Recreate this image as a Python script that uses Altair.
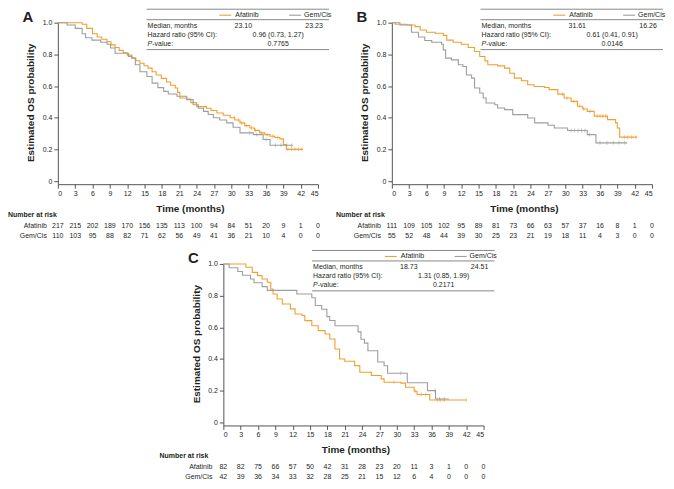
import altair as alt
import pandas as pd

FONT = "Liberation Sans"
TEXT = "#231F20"
AXIS = "#555555"
GROUPS = ["Afatinib", "Gem/Cis"]
COLORS = ["#EFA032", "#9E9E9E"]
MONTHS = list(range(0, 46, 3))
YTICKS = [0, 0.2, 0.4, 0.6, 0.8, 1.0]

# ---------------- Panel A ----------------
a_afa_t = [0, 4.2, 5.0, 6.0, 6.8, 7.6, 8.5, 9.2, 9.9, 10.6, 11.3, 12.0, 12.8, 13.5, 14.2, 14.9, 15.6, 16.3, 17.0, 17.9,
           18.8, 19.5, 20.3, 20.7, 21.1, 22.3, 23.0, 24.0, 25.7, 26.5, 27.5, 28.6, 29.8, 30.6, 31.5, 32.3, 33.2, 34.0, 34.9, 35.8,
           36.7, 37.5, 38.4, 39.0, 39.5, 42.4]
a_afa_s = [1.0, 0.99, 0.964, 0.93, 0.91, 0.895, 0.88, 0.86, 0.843, 0.825, 0.81, 0.795, 0.776, 0.76, 0.744, 0.728, 0.713, 0.69, 0.67, 0.648,
           0.625, 0.605, 0.587, 0.56, 0.524, 0.518, 0.495, 0.47, 0.46, 0.445, 0.43, 0.415, 0.40, 0.385, 0.367, 0.35, 0.335, 0.32, 0.304, 0.293,
           0.283, 0.275, 0.266, 0.23, 0.2, 0.2]
a_gem_t = [0, 1.6, 3.0, 4.2, 4.8, 5.9, 7.4, 8.5, 9.1, 9.9, 12.2, 12.8, 13.4, 14.2, 15.4, 16.3, 17.3, 18.3, 19.1, 20.6,
           22.3, 23.4, 24.3, 25.2, 26.0, 26.9, 28.0, 29.2, 30.3, 31.5, 33.8, 35.5, 36.7, 40.7]
a_gem_s = [1.0, 0.985, 0.964, 0.93, 0.905, 0.89, 0.876, 0.864, 0.84, 0.807, 0.786, 0.776, 0.734, 0.69, 0.66, 0.618, 0.59, 0.566, 0.55, 0.535,
           0.514, 0.482, 0.46, 0.44, 0.42, 0.40, 0.385, 0.367, 0.34, 0.304, 0.293, 0.262, 0.226, 0.226]
a_afa_cens = [30.5, 31.2, 31.8, 32.6, 33.5, 34.2, 35.2, 36.2, 37.2, 38.0, 39.8, 40.4, 41.0, 41.6, 42.2]
a_gem_cens = [33.2, 34.4, 36.0, 37.6, 38.6, 39.6, 40.4]
a_risk_afa = [217, 215, 202, 189, 170, 156, 135, 113, 100, 94, 84, 51, 20, 9, 1, 0]
a_risk_gem = [110, 103, 95, 88, 82, 71, 62, 56, 49, 41, 36, 21, 10, 4, 0, 0]
a_stats = ["23.10", "23.23", "0.96 (0.73, 1.27)", "0.7765"]

# ---------------- Panel B ----------------
b_afa_t = [0, 0.6, 2.6, 4.0, 4.9, 6.0, 7.5, 8.9, 9.5, 10.6, 12.0, 13.2, 14.3, 15.2, 16.1, 16.6, 18.3, 19.5, 20.4, 21.2,
           22.4, 23.5, 24.6, 26.4, 27.2, 28.7, 29.8, 31.0, 32.1, 33.0, 33.8, 35.0, 37.3, 38.7, 39.0, 39.4, 42.4]
b_afa_s = [1.0, 0.99, 0.985, 0.975, 0.954, 0.94, 0.933, 0.92, 0.89, 0.876, 0.864, 0.843, 0.818, 0.786, 0.759, 0.734, 0.727, 0.713, 0.681, 0.65,
           0.633, 0.608, 0.597, 0.591, 0.577, 0.549, 0.524, 0.503, 0.472, 0.455, 0.44, 0.41, 0.388, 0.367, 0.335, 0.277, 0.277]
b_gem_t = [0, 1.4, 3.4, 4.6, 5.7, 6.9, 8.6, 8.9, 9.3, 10.3, 11.5, 12.3, 12.9, 13.8, 14.3, 15.2, 15.8, 16.3, 17.8, 18.3,
           19.5, 20.9, 23.5, 24.7, 27.0, 28.1, 30.4, 33.8, 35.3, 40.7]
b_gem_s = [1.0, 0.985, 0.94, 0.91, 0.887, 0.876, 0.864, 0.828, 0.776, 0.765, 0.734, 0.723, 0.67, 0.65, 0.587, 0.556, 0.524, 0.493, 0.482, 0.461,
           0.451, 0.419, 0.398, 0.367, 0.352, 0.335, 0.319, 0.293, 0.241, 0.241]
b_afa_cens = [29.5, 30.3, 31.5, 32.5, 33.2, 34.3, 35.5, 36.0, 36.5, 37.0, 40.2, 40.8, 41.5, 42.2]
b_gem_cens = [31.0, 31.6, 32.2, 32.8, 33.4, 34.2, 36.0, 37.2, 38.3, 39.3, 40.3]
b_risk_afa = [111, 109, 105, 102, 95, 89, 81, 73, 66, 63, 57, 37, 16, 8, 1, 0]
b_risk_gem = [55, 52, 48, 44, 39, 30, 25, 23, 21, 19, 18, 11, 4, 3, 0, 0]
b_stats = ["31.61", "16.26", "0.61 (0.41, 0.91)", "0.0146"]

# ---------------- Panel C ----------------
c_afa_t = [0, 3.9, 5.0, 5.9, 6.7, 7.6, 8.2, 8.6, 9.3, 10.2, 11.6, 12.4, 13.6, 14.1, 15.3, 16.4, 17.6, 18.4, 19.3, 20.1,
           21.0, 22.7, 23.6, 25.6, 27.3, 27.8, 30.7, 31.5, 33.0, 33.5, 35.7, 42.1]
c_afa_s = [1.0, 0.979, 0.947, 0.926, 0.905, 0.884, 0.842, 0.81, 0.779, 0.747, 0.716, 0.684, 0.674, 0.642, 0.61, 0.579, 0.558, 0.526, 0.463, 0.40,
           0.385, 0.358, 0.316, 0.295, 0.274, 0.253, 0.247, 0.221, 0.196, 0.175, 0.141, 0.141]
c_gem_t = [0, 1.0, 2.5, 3.3, 4.7, 5.3, 6.7, 7.6, 12.7, 15.3, 15.9, 17.0, 17.9, 18.4, 19.3, 23.3, 23.8, 24.4, 25.0, 26.7,
           27.8, 28.4, 31.8, 35.3, 36.7, 39.0]
c_gem_s = [1.0, 0.976, 0.952, 0.929, 0.905, 0.881, 0.857, 0.833, 0.81, 0.786, 0.738, 0.714, 0.667, 0.643, 0.61, 0.571, 0.524, 0.5, 0.452, 0.381,
           0.357, 0.31, 0.25, 0.2, 0.147, 0.147]
c_afa_cens = [29.5, 33.2, 34.2, 35.0, 37.0, 37.6, 38.2, 42.0]
c_gem_cens = [30.7, 36.6, 37.4, 38.2]
c_risk_afa = [82, 82, 75, 66, 57, 50, 42, 31, 28, 23, 20, 11, 3, 1, 0, 0]
c_risk_gem = [42, 39, 36, 34, 33, 32, 28, 25, 21, 15, 12, 6, 4, 0, 0, 0]
c_stats = ["18.73", "24.51", "1.31 (0.85, 1.99)", "0.2171"]

W, H = 261, 162
DUMMY = pd.DataFrame({"k": [0]})


def step_value(t, ts, ss):
    v = ss[0]
    for ti, si in zip(ts, ss):
        if ti <= t:
            v = si
    return v


def label(text, x, y, size=7, weight="normal", align="left", style="normal", color=TEXT, baseline="middle"):
    return alt.Chart(DUMMY).mark_text(
        fontSize=size, fontWeight=weight, align=align, fontStyle=style, color=color,
        baseline=baseline, font=FONT
    ).encode(x=alt.value(x), y=alt.value(y), text=alt.value(text))


def hline(x1, x2, y, color="#6B6B6B", width=0.8):
    return alt.Chart(DUMMY).mark_rule(color=color, strokeWidth=width).encode(
        x=alt.value(x1), x2=alt.value(x2), y=alt.value(y))


XSCALE = alt.Scale(domain=[0, 45], nice=False, zero=False)
YSCALE = alt.Scale(domain=[-0.02, 1], nice=False)
COLOR = alt.Color("g:N", scale=alt.Scale(domain=GROUPS, range=COLORS), legend=None)
X_ENC = alt.X("t:Q", scale=XSCALE, axis=alt.Axis(
    values=MONTHS, format="d", title="Time (months)", titleX=W / 2 + 2, titleY=24,
    titleBaseline="middle", labelPadding=1, tickSize=4))
Y_ENC = alt.Y("s:Q", scale=YSCALE, axis=alt.Axis(
    values=YTICKS, labelExpr="datum.value == 0 ? '0' : format(datum.value, '.1f')",
    title="Estimated OS probability", titleX=-27, titleY=80, titleBaseline="middle",
    labelPadding=2, tickSize=4))


def panel(letter, afa_t, afa_s, gem_t, gem_s, afa_c, gem_c, risk_afa, risk_gem, stats, tdx, nar_x):
    km = pd.DataFrame({
        "t": afa_t + gem_t,
        "s": afa_s + gem_s,
        "g": ["Afatinib"] * len(afa_t) + ["Gem/Cis"] * len(gem_t),
    })
    cens = pd.DataFrame({
        "t": afa_c + gem_c,
        "s": [step_value(t, afa_t, afa_s) for t in afa_c] + [step_value(t, gem_t, gem_s) for t in gem_c],
        "g": ["Afatinib"] * len(afa_c) + ["Gem/Cis"] * len(gem_c),
    })
    lines = alt.Chart(km).mark_line(interpolate="step-after", strokeWidth=1.1).encode(
        x=X_ENC, y=Y_ENC, color=COLOR)
    ticks = alt.Chart(cens).mark_tick(orient="vertical", size=4, thickness=0.8).encode(
        x=X_ENC, y=Y_ENC, color=COLOR)
    risk1 = alt.Chart(pd.DataFrame({"t": MONTHS, "n": risk_afa})).mark_text(
        fontSize=7, font=FONT, color=TEXT, baseline="middle").encode(
        x=X_ENC, y=alt.value(H + 42), text="n:Q")
    risk2 = alt.Chart(pd.DataFrame({"t": MONTHS, "n": risk_gem})).mark_text(
        fontSize=7, font=FONT, color=TEXT, baseline="middle").encode(
        x=X_ENC, y=alt.value(H + 52), text="n:Q")

    L, R = 89 + tdx, 272 + tdx
    rows = {"top": -13.5, "head": -7.5, "hline": -3, "med": 3, "hr": 12, "p": 21, "bot": 27}
    layers = [lines, ticks, risk1, risk2,
              hline(L, R, rows["top"]), hline(L, R, rows["hline"]), hline(L, R, rows["bot"]),
              hline(162 + tdx, 174 + tdx, rows["head"], color=COLORS[0], width=1.1),
              hline(232 + tdx, 244 + tdx, rows["head"], color=COLORS[1], width=1.1),
              label("Afatinib", 178 + tdx, rows["head"]),
              label("Gem/Cis", 247 + tdx, rows["head"]),
              label("Median, months", L + 1, rows["med"]),
              label(stats[0], 186 + tdx, rows["med"], align="center"),
              label(stats[1], 257 + tdx, rows["med"], align="center"),
              label("Hazard ratio (95% CI):", L + 1, rows["hr"]),
              label(stats[2], 221 + tdx, rows["hr"], align="center"),
              label("P", L + 1, rows["p"], style="italic"),
              label("-value:", L + 5.7, rows["p"]),
              label(stats[3], 221 + tdx, rows["p"], align="center"),
              label(letter, -30, -1, size=15, weight="bold", align="center", baseline="alphabetic"),
              label("Number at risk", nar_x, H + 31, weight="bold"),
              label("Afatinib", -11, H + 42, align="right"),
              label("Gem/Cis", -11, H + 52, align="right"),
              ]
    return alt.layer(*layers).properties(width=W, height=H)


pA = panel("A", a_afa_t, a_afa_s, a_gem_t, a_gem_s, a_afa_cens, a_gem_cens, a_risk_afa, a_risk_gem, a_stats, 0, -50)
pB = panel("B", b_afa_t, b_afa_s, b_gem_t, b_gem_s, b_afa_cens, b_gem_cens, b_risk_afa, b_risk_gem, b_stats, 0, -56)
pC = panel("C", c_afa_t, c_afa_s, c_gem_t, c_gem_s, c_afa_cens, c_gem_cens, c_risk_afa, c_risk_gem, c_stats, 0, -64)

spacer = alt.Chart(DUMMY).mark_text().encode(text=alt.value("")).properties(width=146, height=10)

row1 = alt.hconcat(pA, pB, spacing=74, bounds="flush")
row2 = alt.hconcat(spacer, pC, spacing=20, bounds="flush")
chart = alt.vconcat(row1, row2, spacing=11).properties(padding=0).configure_view(stroke=None).configure_axis(
    domainColor=AXIS, tickColor=AXIS, labelColor=TEXT, labelFont=FONT, labelFontSize=7,
    titleFont=FONT, titleFontSize=10, titleFontWeight="bold", titleColor=TEXT, grid=False,
    domainWidth=1, tickWidth=1
).configure_text(font=FONT)

chart.save("out.html", embed_options={"renderer": "svg", "actions": False})
